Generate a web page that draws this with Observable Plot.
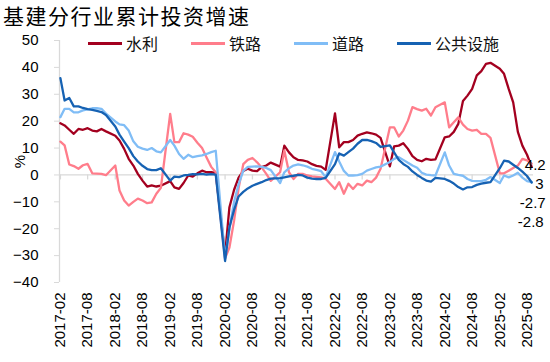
<!DOCTYPE html>
<html>
<head>
<meta charset="utf-8">
<script src="https://cdn.jsdelivr.net/npm/d3@7"></script>
<script src="https://cdn.jsdelivr.net/npm/@observablehq/plot@0.6"></script>
<style>
  html, body { margin: 0; padding: 0; background: #fff; }
  #wrap { position: relative; width: 550px; height: 362px; overflow: hidden; }
  #title { height: 30px; line-height: 30px; padding-left: 3px; font-family: "Noto Sans CJK SC", sans-serif; font-size: 21px; letter-spacing: 1.5px; color: #000; white-space: nowrap; }
  #legend { position: absolute; top: 33px; left: 88px; display: flex; font-family: "Noto Sans CJK SC", sans-serif; font-size: 16px; color: #111; }
  .item { display: flex; align-items: center; width: 103px; height: 20px; flex: none; }
  .swatch { width: 34px; height: 3px; margin-right: 4px; }
  #chart svg { display: block; }
</style>
</head>
<body>
<div id="wrap">
  <div id="title">基建分行业累计投资增速</div>
  <div id="chart"></div>
  <div id="legend"></div>
</div>
<script>
// ---- data (cumulative YoY growth, %), Feb..Dec each year, 2025 Feb..Sep ----
const seriesNames = ["水利", "铁路", "道路", "公共设施"];
const seriesColors = ["#a3001f", "#ff7d8b", "#80bdf6", "#1662b3"];
const years = [2017, 2018, 2019, 2020, 2021, 2022, 2023, 2024, 2025];
const lastMonth2025 = 9;

const shuili = [
  19.2, 18.4, 16.8, 15.3, 17.1, 16.8, 17.4, 16.5, 16.2, 17.1, 16.2,   // 2017
  14.6, 12.8, 9.7, 6.0, 3.5, 0.4, -2.1, -4.3, -3.9, -4.3, -4.0,       // 2018
  -2.3, -4.6, -5.2, -3.0, -0.2, -0.6, 0.6, 1.6, 1.0, 1.0, 0.8,        // 2019
  -29.5, -12.0, -5.5, -1.0, 1.5, 2.3, 1.6, 1.4, 2.9, 3.5, 4.6,        // 2020
  3.1, 10.9, 8.4, 6.6, 5.6, 5.4, 5.0, 4.0, 3.4, 3.1, 1.9,             // 2021
  22.9, 10.3, 12.2, 12.2, 13.0, 14.6, 15.3, 15.8, 15.5, 15.0, 13.8,   // 2022
  3.2, 10.6, 10.9, 11.8, 9.7, 7.0, 5.6, 5.1, 6.0, 5.6, 5.8,           // 2023
  14.0, 14.3, 16.0, 19.0, 27.5, 29.5, 32.0, 37.0, 38.6, 41.3, 41.7,   // 2024
  39.5, 37.6, 32.0, 27.0, 16.0, 10.9, 7.5, 3.0                        // 2025
];
const tielu = [
  12.4, 11.0, 3.9, 3.3, 2.3, 3.6, 4.1, 0.6, 0.5, 0.4, -0.1,
  3.5, -5.8, -9.5, -11.4, -10.0, -8.8, -9.5, -10.5, -10.2, -7.0, -4.8,
  22.7, 12.2, 12.2, 15.5, 15.0, 14.2, 12.0, 10.0, 6.5, 3.0, 1.0,
  -31.0, -27.0, -17.0, -5.0, 4.0, 5.6, 6.3, 4.7, 2.8, 0.4, -2.2,
  1.0, 9.1, 1.0, -1.5, 0.4, 0.4, -0.2, -0.5, -0.7, -0.9, -1.4,
  -5.2, -2.7, -7.0, -3.3, -5.2, -3.3, -3.9, -2.1, -2.7, -1.0, 2.3,
  17.7, 17.7, 14.3, 16.5, 20.2, 25.2, 24.5, 23.9, 24.6, 22.1, 25.2,
  27.0, 17.7, 19.6, 21.4, 18.7, 17.1, 16.5, 16.8, 15.3, 15.3, 13.8,
  0.6, 0.6, 1.6, 2.6, 3.5, 6.0, 5.4, 4.2
];
const daolu = [
  21.5, 24.6, 24.6, 23.3, 23.3, 24.0, 24.4, 24.8, 24.8, 24.6, 22.8,
  19.9, 18.8, 18.5, 16.5, 12.5, 10.5, 9.8, 9.3, 10.0, 8.8, 8.4,
  13.0, 10.9, 7.8, 6.0, 7.5, 6.6, 7.0, 7.3, 7.8, 8.5, 9.0,
  -31.0, -20.0, -10.0, -3.5, 1.5, 3.0, 3.1, 3.2, 3.0, 2.6, 1.8,
  -3.0, 1.0, 2.5, 3.5, 3.9, 3.6, 3.1, 2.3, 1.9, 1.4, -0.8,
  8.5, 5.0, 1.5, -0.2, -0.2, -0.1, 0.4, 1.6, 2.2, 2.8, 3.1,
  4.8, 6.0, 6.6, 5.6, 4.5, 3.5, 2.7, 0.8, 0.1, -0.1, -0.2,
  8.4, 3.5, 0.4, 0.0, -0.3, -1.5, -2.2, -2.3, -2.3, -1.8, -0.8,
  -3.0, -0.2, -0.9, -0.2, 0.8, -1.0, -2.3, -2.7
];
const gonggong = [
  36.0, 27.7, 28.6, 25.5, 25.5, 24.9, 24.5, 24.2, 23.8, 23.4, 22.3,
  18.0, 15.0, 12.4, 10.0, 7.0, 5.0, 3.4, 2.2, 1.8, 1.8, 2.5,
  -2.1, -0.6, -0.8, -0.2, 0.0, 0.3, 0.2, 0.4, 0.1, 0.3, 0.1,
  -32.0, -19.5, -13.0, -8.0, -6.3, -5.0, -4.0, -3.3, -2.7, -1.9, -1.4,
  -1.2, -0.9, -0.5, -0.3, 0.0, -0.2, -1.0, -1.4, -1.5, -1.5, -1.1,
  4.0, 8.0, 7.2, 8.5, 9.8, 11.6, 13.0, 13.0, 12.6, 11.9, 10.4,
  11.0, 8.4, 5.6, 4.1, 3.0, 1.3, 0.0, -1.1, -2.1, -2.5, -1.1,
  -1.5, -2.2, -3.2, -4.5, -5.4, -4.6, -4.5, -3.7, -3.2, -2.9, -2.7,
  2.5, 5.3, 5.0, 3.8, 2.6, 1.2, -0.4, -2.8
];
const seriesValues = [shuili, tielu, daolu, gonggong];
const yTicks = [-40, -30, -20, -10, 0, 10, 20, 30, 40, 50];
const xTickMonths = [2, 8];   // tick labels every Feb and Aug

// ---- build dates (monthly cumulative data, no separate January) ----
const dates = [];
for (const y of years) {
  for (let m = 2; m <= 12; m++) {
    if (y === 2025 && m > lastMonth2025) break;
    dates.push(new Date(Date.UTC(y, m - 1, 1)));
  }
}
const rows = [];
seriesNames.forEach((name, i) => {
  seriesValues[i].forEach((v, j) => rows.push({series: name, date: dates[j], value: v}));
});
const xTicks = [];
for (const y of years) for (const m of xTickMonths) {
  const d = new Date(Date.UTC(y, m - 1, 1));
  if (d <= dates[dates.length - 1]) xTicks.push(d);
}
const x0 = d3.utcDay.offset(dates[0], -6);
const x1 = d3.utcDay.offset(dates[dates.length - 1], 12);

// end labels: offsets in px (style only)
const labelOffsets = {"水利": [12, 17], "铁路": [14, 2], "道路": [14, 21], "公共设施": [12, 40]};

const lineMarks = seriesNames.map((name, i) =>
  Plot.line(rows.filter(d => d.series === name), {x: "date", y: "value", stroke: seriesColors[i], strokeWidth: 2.3, strokeLinejoin: "round"})
);
const labelMarks = seriesNames.map((name) => {
  const last = rows.filter(d => d.series === name).slice(-1);
  const [dx, dy] = labelOffsets[name];
  return Plot.text(last, {x: "date", y: "value", text: d => String(d.value), textAnchor: "end", dx, dy, fill: "#000", fontSize: 15});
});

const chart = Plot.plot({
  width: 550,
  height: 332,
  marginTop: 10,
  marginBottom: 80,
  marginLeft: 59,
  marginRight: 17,
  style: {fontFamily: "'Liberation Sans', Arial, sans-serif", fontSize: "15px", color: "#000", background: "transparent"},
  x: {type: "utc", domain: [x0, x1]},
  y: {domain: [-40, 50]},
  marks: [
    Plot.ruleY([0], {stroke: "#d9d9d9", strokeWidth: 1.3}),
    Plot.ruleX(xTicks, {x: d => d, y1: 0, y2: 0, insetBottom: -5, stroke: "#d9d9d9", strokeWidth: 1.3}),
    Plot.ruleX([x0], {stroke: "#d9d9d9", strokeWidth: 1.3}),
    Plot.axisY({ticks: yTicks, tickSize: 5, tickPadding: 16, stroke: "#d9d9d9", fill: "#000", label: "%", labelAnchor: "center", labelOffset: 45, labelArrow: "none"}),
    Plot.axisX({ticks: xTicks, tickFormat: d3.utcFormat("%Y-%m"), tickRotate: -90, tickSize: 0, tickPadding: 10, label: null, fill: "#000"}),
    ...lineMarks,
    ...labelMarks
  ]
});
document.getElementById("chart").appendChild(chart);

// legend
const legend = d3.select("#legend");
seriesNames.forEach((name, i) => {
  const item = legend.append("div").attr("class", "item");
  item.append("span").attr("class", "swatch").style("background", seriesColors[i]);
  item.append("span").text(name);
});
</script>
</body>
</html>
